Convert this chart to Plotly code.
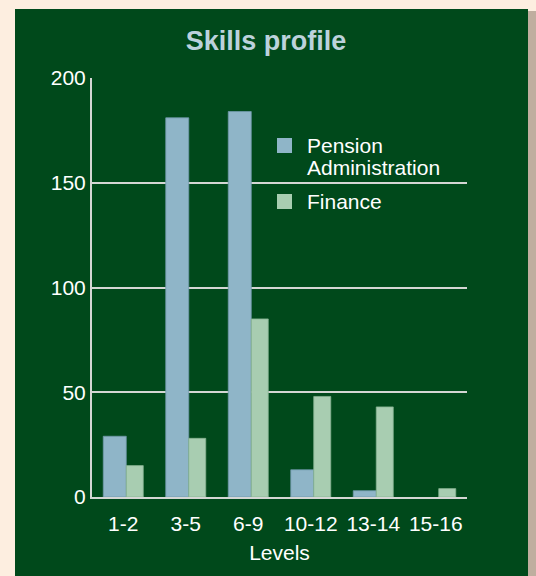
import plotly.graph_objects as go

# data
levels = ["1-2", "3-5", "6-9", "10-12", "13-14", "15-16"]
pension = [29, 181, 184, 13, 3, 0]
finance = [15, 28, 85, 48, 43, 4]
y_ticks = [0, 50, 100, 150, 200]

BG = "#fdeee0"
PANEL = "#00491b"
BLUE = "#8fb5c8"
GREEN = "#a8cdb1"
GRID = "#d4d6d4"
FONT = "Liberation Sans, Arial, sans-serif"


def edge(values):
    # no outline on empty bars, otherwise a stray line shows on the axis
    return [0.8 if v else 0 for v in values]


fig = go.Figure()
fig.add_trace(go.Bar(
    x=levels, y=pension, name="Pension Administration",
    marker=dict(color=BLUE, line=dict(color="#6f98aa", width=edge(pension))),
    offset=-0.32, width=0.368, showlegend=False,
))
fig.add_trace(go.Bar(
    x=levels, y=finance, name="Finance",
    marker=dict(color=GREEN, line=dict(color="#86b292", width=edge(finance))),
    offset=0.048, width=0.272, showlegend=False,
))

# plot area is 92..467 x 78..497 px
W, H = 536, 576
l, r, t, b = 92, 69, 78, 79
pw, ph = W - l - r, H - t - b

def px_x(v):
    return (v - l) / pw

def px_y(v):
    return (H - b - v) / ph

shapes = [
    # right shadow of the panel
    dict(type="rect", xref="paper", yref="paper", layer="below",
         x0=px_x(528), x1=px_x(537), y0=px_y(580), y1=px_y(11),
         fillcolor="#bfae9f", line=dict(width=0)),
    # green panel
    dict(type="rect", xref="paper", yref="paper", layer="below",
         x0=px_x(15), x1=px_x(528), y0=px_y(580), y1=px_y(9),
         fillcolor=PANEL, line=dict(width=0)),
]

# hand-made legend (tight line spacing like the original)
legend_items = [("Pension", BLUE, 138), ("Finance", GREEN, 194)]
annotations = []
for label, color, top in legend_items:
    shapes.append(dict(type="rect", xref="paper", yref="paper",
                       x0=px_x(277), x1=px_x(292), y0=px_y(top + 15), y1=px_y(top),
                       fillcolor=color, line=dict(width=0)))
legend_lines = [("Pension", 145), ("Administration", 167), ("Finance", 201)]
for text, yc in legend_lines:
    annotations.append(dict(text=text, xref="paper", yref="paper",
                            x=px_x(305), y=px_y(yc), xanchor="left", yanchor="middle",
                            showarrow=False, font=dict(size=21, color="white", family=FONT)))

fig.update_layout(
    width=W, height=H,
    margin=dict(l=l, r=r, t=t, b=b, autoexpand=False),
    paper_bgcolor=BG,
    plot_bgcolor=PANEL,
    shapes=shapes,
    annotations=annotations,
    barmode="group",
    font=dict(family=FONT, color="white", size=21),
    title=dict(text="<b>Skills profile</b>", x=266 / W, xanchor="center",
               y=1 - 41 / H, yanchor="middle",
               font=dict(size=27, color="#bcd2dc", family=FONT)),
    xaxis=dict(
        type="category",
        title=dict(text="Levels", font=dict(size=21, color="white"), standoff=11),
        tickfont=dict(size=21, color="white"),
        showgrid=False, showline=True, linecolor=GRID, linewidth=2,
        ticks="", ticklabelstandoff=7,
        range=[-0.5, 5.5],
    ),
    yaxis=dict(
        range=[0, 200], tickvals=y_ticks,
        tickfont=dict(size=21, color="white"),
        showgrid=True, gridcolor=GRID, gridwidth=2,
        showline=True, linecolor=GRID, linewidth=2,
        zeroline=False, ticks="", ticklabelstandoff=0,
    ),
)

fig.write_html(
    "out.html",
    config={"displayModeBar": False},
    post_script="document.body.style.margin='0';"
                "document.body.style.background='" + BG + "';",
)
